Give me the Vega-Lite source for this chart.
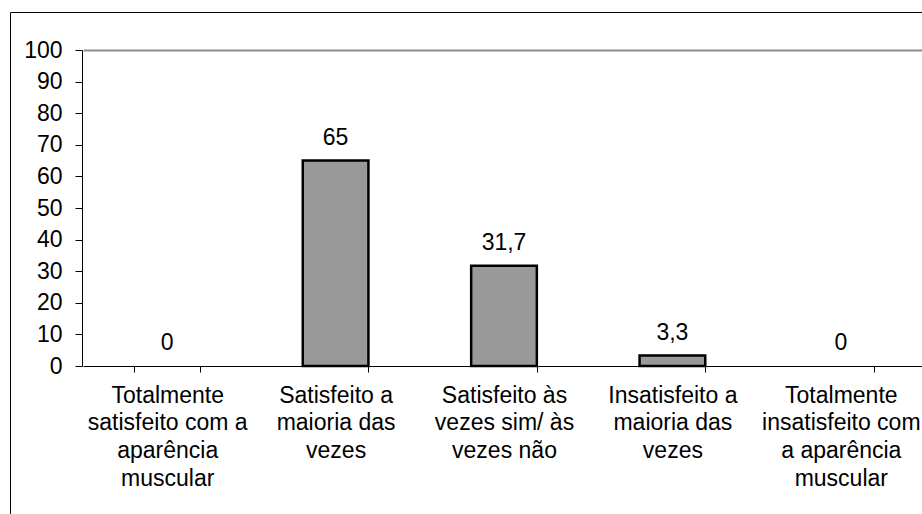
{
  "$schema": "https://vega.github.io/schema/vega-lite/v6.json",
  "width": 912,
  "height": 502,
  "autosize": "none",
  "padding": {"left": 10, "top": 12, "right": 0, "bottom": 0},
  "background": "white",
  "config": {
    "view": {"stroke": "black", "strokeWidth": 1},
    "locale": {"number": {"decimal": ",", "thousands": ".", "grouping": [3], "currency": ["R$", ""]}},
    "font": "Liberation Sans"
  },
  "data": {
    "values": [
      {"categoria": "Totalmente\nsatisfeito com a\naparência\nmuscular", "valor": 0},
      {"categoria": "Satisfeito a\nmaioria das\nvezes", "valor": 65},
      {"categoria": "Satisfeito às\nvezes sim/ às\nvezes não", "valor": 31.7},
      {"categoria": "Insatisfeito a\nmaioria das\nvezes", "valor": 3.3},
      {"categoria": "Totalmente\ninsatisfeito com\na aparência\nmuscular", "valor": 0}
    ]
  },
  "encoding": {
    "y": {
      "field": "valor",
      "type": "quantitative",
      "scale": {"domain": [0, 100], "range": [354, 38], "nice": false, "zero": true},
      "axis": {
        "orient": "left",
        "offset": -72,
        "title": null,
        "values": [0, 10, 20, 30, 40, 50, 60, 70, 80, 90, 100],
        "grid": false,
        "domainColor": "black",
        "domainWidth": 1,
        "tickColor": "black",
        "tickSize": 7,
        "labelPadding": 13,
        "labelFontSize": 23,
        "labelColor": "black",
        "labelFont": "Liberation Sans",
        "labelBaseline": "middle"
      }
    }
  },
  "layer": [
    {
      "mark": {"type": "bar", "fill": "#999999", "stroke": "black", "strokeWidth": 2.5},
      "encoding": {
        "x": {
          "field": "categoria",
          "type": "nominal",
          "sort": null,
          "scale": {"range": [73, 915], "paddingInner": 0.61, "paddingOuter": 0.305},
          "axis": {
            "orient": "bottom",
            "offset": -148,
            "title": null,
            "domainColor": "black",
            "domainWidth": 1,
            "tickColor": "black",
            "tickSize": 6,
            "tickBand": "extent",
            "labelAngle": 0,
            "labelFontSize": 23,
            "labelLineHeight": 27.7,
            "labelPadding": 12,
            "labelColor": "black",
            "labelFont": "Liberation Sans",
            "labelBaseline": "top",
            "labelLimit": 0,
            "labelOverlap": false,
            "labelBound": false,
            "labelExpr": "isString(datum.value) ? split(datum.value, '\\n') : ''"
          }
        },
        "strokeOpacity": {"condition": {"test": "datum.valor == 0", "value": 0}, "value": 1}
      }
    },
    {
      "mark": {"type": "text", "dy": -16, "baseline": "alphabetic", "fontSize": 23, "font": "Liberation Sans", "color": "black"},
      "encoding": {
        "x": {
          "field": "categoria",
          "type": "nominal",
          "sort": null,
          "scale": {"range": [73, 915], "paddingInner": 0.61, "paddingOuter": 0.305},
          "axis": {
            "orient": "top",
            "offset": -38,
            "title": null,
            "domainColor": "#8c8c8c",
            "domainWidth": 2,
            "ticks": false,
            "labels": false,
            "grid": false
          }
        },
        "text": {"field": "valor", "type": "quantitative", "format": ".3~g"}
      }
    }
  ],
  "resolve": {"axis": {"x": "independent"}}
}
